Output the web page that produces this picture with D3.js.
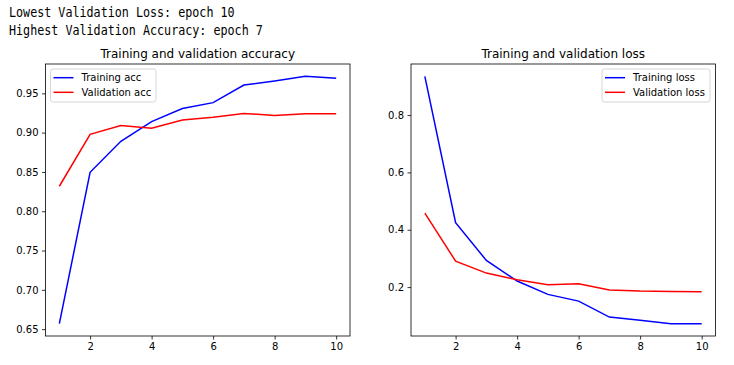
<!DOCTYPE html>
<html>
  <head>
    <title>training history</title>
    <style>
      body { margin: 0; background: #fff; }
      text { font-family: "DejaVu Sans", sans-serif; }
    </style>
  </head>
  <body>
    <script src="https://cdn.jsdelivr.net/npm/d3@7"></script>
    <script>
      var epochs = [1, 2, 3, 4, 5, 6, 7, 8, 9, 10];
      var trainAcc = [0.657, 0.8495, 0.889, 0.914, 0.9306, 0.9382, 0.9606, 0.9657, 0.9716, 0.9691];
      var valAcc = [0.8318, 0.8979, 0.909, 0.9055, 0.9161, 0.9195, 0.9245, 0.9217, 0.924, 0.924];
      var trainLoss = [0.935, 0.4244, 0.293, 0.221, 0.1746, 0.151, 0.0955, 0.084, 0.0725, 0.0725];
      var valLoss = [0.458, 0.2906, 0.2488, 0.2258, 0.208, 0.212, 0.1896, 0.186, 0.185, 0.184];
      var xTicks = [2, 4, 6, 8, 10];
      var accTicks = [0.65, 0.70, 0.75, 0.80, 0.85, 0.90, 0.95];
      var lossTicks = [0.2, 0.4, 0.6, 0.8];
      var headerLines = ["Lowest Validation Loss: epoch 10", "Highest Validation Accuracy: epoch 7"];

      var w = 734, h = 365;
      var svg = d3.select('body').append('svg').attr('width', w).attr('height', h);

      svg.selectAll('text.head').data(headerLines).enter().append('text')
        .attr('class', 'head')
        .attr('x', 9)
        .attr('y', function(d, i) { return 17 + i * 18; })
        .attr('textLength', function(d) { return d.length * 7.05; })
        .attr('lengthAdjust', 'spacingAndGlyphs')
        .style('font-family', '"DejaVu Sans Mono", monospace')
        .style('font-size', '13.5px')
        .style('fill', '#000')
        .text(function(d) { return d; });

      function padded(vals) {
        var lo = d3.min(vals), hi = d3.max(vals), m = (hi - lo) * 0.05;
        return [lo - m, hi + m];
      }

      function panel(opt) {
        var left = opt.left, right = opt.right, top = 64, bottom = 336;
        var g = svg.append('g');
        var x = d3.scaleLinear().domain([0.55, 10.45]).range([left, right]);
        var y = d3.scaleLinear().domain(padded(opt.a.concat(opt.b))).range([bottom, top]);

        var xa = g.append('g').attr('transform', 'translate(0,' + bottom + ')')
          .call(d3.axisBottom(x).tickValues(xTicks).tickSize(3.5).tickPadding(3.5).tickFormat(d3.format('d')));
        var ya = g.append('g').attr('transform', 'translate(' + left + ',0)')
          .call(d3.axisLeft(y).tickValues(opt.yTicks).tickSize(3.5).tickPadding(3.5).tickFormat(d3.format(opt.fmt)));
        [xa, ya].forEach(function(a) {
          a.select('.domain').remove();
          a.selectAll('line').attr('stroke', '#000').attr('stroke-width', 0.8);
          a.selectAll('text').style('font-size', '10px').style('fill', '#000')
            .style('font-family', '"DejaVu Sans", sans-serif');
        });

        var line = d3.line().x(function(d, i) { return x(epochs[i]); }).y(function(d) { return y(d); });
        g.append('path').datum(opt.a).attr('d', line).attr('fill', 'none').attr('stroke', 'blue').attr('stroke-width', 1.5);
        g.append('path').datum(opt.b).attr('d', line).attr('fill', 'none').attr('stroke', 'red').attr('stroke-width', 1.5);

        g.append('rect').attr('x', left).attr('y', top).attr('width', right - left).attr('height', bottom - top)
          .attr('fill', 'none').attr('stroke', '#000').attr('stroke-width', 0.8);

        g.append('text').attr('x', (left + right) / 2).attr('y', 58).attr('text-anchor', 'middle')
          .style('font-size', '12px').style('fill', '#000').text(opt.title);

        var lg = g.append('g').attr('transform', 'translate(' + opt.lx + ',69)');
        lg.append('rect').attr('x', 0).attr('y', 0).attr('width', opt.lw).attr('height', 33).attr('rx', 2.5)
          .attr('fill', '#fff').attr('fill-opacity', 0.8).attr('stroke', '#ccc').attr('stroke-width', 0.8);
        var items = lg.selectAll('g.item').data(opt.labels).enter().append('g')
          .attr('transform', function(d, i) { return 'translate(0,' + (8.7 + i * 14.6) + ')'; });
        items.append('line').attr('x1', 3).attr('x2', 23).attr('y1', 0).attr('y2', 0)
          .attr('stroke', function(d, i) { return i ? 'red' : 'blue'; }).attr('stroke-width', 1.5);
        items.append('text').attr('x', 31).attr('y', 3.6).style('font-size', '10px').style('fill', '#000')
          .text(function(d) { return d; });
      }

      panel({ left: 45.5, right: 350, a: trainAcc, b: valAcc, yTicks: accTicks, fmt: '.2f',
              title: 'Training and validation accuracy', lx: 50.5, lw: 105.5,
              labels: ['Training acc', 'Validation acc'] });
      panel({ left: 411, right: 715.5, a: trainLoss, b: valLoss, yTicks: lossTicks, fmt: '.1f',
              title: 'Training and validation loss', lx: 602, lw: 108,
              labels: ['Training loss', 'Validation loss'] });
    </script>
  </body>
</html>
